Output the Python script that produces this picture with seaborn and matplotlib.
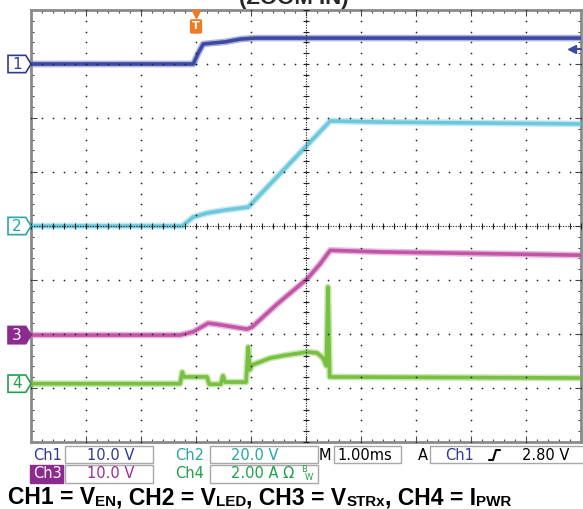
import numpy as np
import pandas as pd
import matplotlib
matplotlib.use('Agg')
from matplotlib import pyplot as plt
from matplotlib.patches import Polygon, Rectangle
from matplotlib.lines import Line2D
import matplotlib.transforms as mtrans
import seaborn as sns

t_ch1 = [-3.0, -0.05, 0.04, 0.13, 0.53, 0.8, 1.07, 7.0]
v_ch1 = [0.0, 0.0, 2.0, 3.7, 4.1, 4.6, 4.8, 4.8]

t_ch2 = [-3.0, -0.25, -0.05, 0.2, 0.53, 0.95, 2.44, 3.35, 7.0]
v_ch2 = [0.0, 0.0, 3.3, 4.8, 5.9, 7.0, 38.9, 38.5, 37.8]

t_ch3 = [-3.0, -0.29, -0.05, 0.22, 0.38, 0.93, 1.02, 1.47, 2.02, 2.25, 2.44, 3.35, 7.0]
v_ch3 = [0.0, 0.0, 0.6, 2.2, 2.0, 1.1, 1.5, 5.7, 10.4, 13.1, 15.7, 15.4, 14.8]

t_ch4 = [-3.0, -0.29, -0.25, -0.22, 0.2, 0.24, 0.45, 0.49, 0.53, 0.91, 0.95, 0.98,
         1.02, 1.35, 1.65, 2.02, 2.2, 2.31, 2.37, 2.4, 2.43, 7.0]
i_ch4 = [0.0, 0.0, 0.43, 0.25, 0.25, -0.02, -0.02, 0.29, 0.06, 0.06, 1.36, 0.51,
         0.69, 0.95, 1.06, 1.17, 1.14, 0.95, 0.66, 3.58, 0.25, 0.21]

scales = [10.0, 20.0, 10.0, 2.0]      # per division
offsets = [3.0, 0.0, -2.02, -2.92]    # ground marker position in divisions
trig_level = 2.80

trace_colors = ['#3c4aa6', '#6cc8dc', '#c255a8', '#78c040']
text_colors = ['#2e3a93', '#2aa5a5', '#a02a9a', '#20a04a']

caption_parts = [('CH1 = V', False), ('EN', True), (', CH2 = V', False), ('LED', True),
                 (', CH3 = V', False), ('STRx', True), (', CH4 = I', False), ('PWR', True)]

sns.set_style('white')
plt.rcParams['font.family'] = ['DejaVu Sans']

W, H = 583, 509
fig = plt.figure(figsize=(W / 100, H / 100), dpi=100)
ax = fig.add_axes([31 / W, 1 - 442 / H, 550 / W, 432 / H])


def fx(x):
    return x / W


def fy(y):
    return 1 - y / H


# traces
data = [(t_ch1, v_ch1), (t_ch2, v_ch2), (t_ch3, v_ch3), (t_ch4, i_ch4)]
for k, (t, v) in enumerate(data):
    df = pd.DataFrame({'t': t, 'div': offsets[k] + np.array(v) / scales[k]})
    sns.lineplot(data=df, x='t', y='div', ax=ax, color=trace_colors[k], lw=4.8, alpha=0.4,
                 estimator=None, sort=False, legend=False, zorder=2)
    sns.lineplot(data=df, x='t', y='div', ax=ax, color=trace_colors[k], lw=2.6,
                 estimator=None, sort=False, legend=False, zorder=3)

ax.set_xlim(-3, 7)
ax.set_ylim(-4, 4)
ax.set_xlabel('')
ax.set_ylabel('')

# graticule
gx = np.arange(-3, 7.001, 0.2)
gy = np.arange(-4, 4.001, 0.2)
for yv in range(-3, 4):
    ax.scatter(gx, np.full(len(gx), yv), s=1.5, color='#222222', linewidths=0, zorder=4)
for xv in range(-2, 7):
    ax.scatter(np.full(len(gy), xv), gy, s=1.5, color='#222222', linewidths=0, zorder=4)
ax.axvline(2, color='#222222', lw=0.8, ls=(0, (1, 1.3)), zorder=4)
ax.axhline(0, color='#222222', lw=0.8, ls=(0, (1, 1.3)), zorder=4)
ax.plot(np.full(len(gy), 2), gy, ls='none', marker='_', ms=4, mew=0.8, color='#222222', zorder=4)
ax.plot(gx, np.zeros(len(gx)), ls='none', marker='|', ms=4, mew=0.8, color='#222222', zorder=4)

ax.set_xticks(np.arange(-3, 7.01, 1))
ax.set_xticks(gx, minor=True)
ax.set_yticks(np.arange(-4, 4.01, 1))
ax.set_yticks(gy, minor=True)
ax.tick_params(which='both', direction='in', top=True, right=True, bottom=True, left=True,
               labelbottom=False, labelleft=False, color='#444444', width=0.8)
ax.tick_params(which='major', length=4)
ax.tick_params(which='minor', length=2.5)
for sp in ax.spines.values():
    sp.set_color('#8a8a8a')
    sp.set_linewidth(2)

# channel ground markers on the left
mtr = mtrans.blended_transform_factory(ax.transAxes, ax.transData)
for k in range(4):
    y = offsets[k]
    pts = [(-0.0418, y - 0.16), (-0.0095, y - 0.16), (0.0, y), (-0.0095, y + 0.16), (-0.0418, y + 0.16)]
    filled = k == 2
    ax.add_patch(Polygon(pts, closed=True, transform=mtr, clip_on=False,
                         fc='#8c2a90' if filled else 'white',
                         ec='#8c2a90' if filled else text_colors[k], lw=1.2, zorder=5))
    ax.text(-0.026, y, str(k + 1), transform=mtr, ha='center', va='center', fontsize=11,
            color='white' if filled else text_colors[k], clip_on=False, zorder=6)

# trigger marker
ttr = mtrans.blended_transform_factory(ax.transData, ax.transAxes)
ax.plot([0], [0.99], marker='v', ms=6, color='#f07a22', transform=ttr, clip_on=False, zorder=6)
ax.text(0, 0.962, 'T', transform=ttr, ha='center', va='center', color='white', fontsize=8,
        fontweight='bold', clip_on=False, zorder=7,
        bbox=dict(boxstyle='round,pad=0.2,rounding_size=0.15', fc='#f07a22', ec='none'))

# trigger level arrow on the right
lvl = offsets[0] + trig_level / scales[0]
ax.plot([6.83], [lvl], marker='<', ms=6, color=trace_colors[0], clip_on=False, zorder=6)
ax.plot([6.85, 7.0], [lvl, lvl], color=trace_colors[0], lw=1.5, clip_on=False, zorder=6)


# readout panel
def box(x0, y0, x1, y1, fc='white', ec='#a8a8a8'):
    fig.add_artist(Rectangle((fx(x0), fy(y1)), fx(x1) - fx(x0), fy(y0) - fy(y1),
                             transform=fig.transFigure, fc=fc, ec=ec, lw=1))


def label(x, y, s, color, size=10.5):
    fig.text(fx(x), fy(y), s, ha='left', va='center', color=color, fontsize=size)


r1, r2 = 455, 474
box(65, 446, 153, 463)
box(210, 446, 318, 463)
box(334, 446, 401, 463)
box(430, 446, 590, 463)
box(65, 465, 153, 483)
box(210, 465, 318, 483)
box(30, 465, 63, 483, fc='#8c2a90', ec='#8c2a90')

label(33, r1, 'Ch1', text_colors[0])
label(87, r1, '10.0 V', text_colors[0])
label(175, r1, 'Ch2', text_colors[1])
label(231, r1, '20.0 V', text_colors[1])
label(319, r1, 'M', 'black')
label(337, r1, '1.00ms', 'black')
label(418, r1, 'A', 'black')
label(445, r1, 'Ch1', text_colors[0])
label(522, r1, '2.80 V', 'black')
fig.add_artist(Line2D([fx(489), fx(493), fx(496), fx(500)], [fy(460), fy(460), fy(450), fy(450)],
                      transform=fig.transFigure, color='black', lw=1.5))

label(33, r2, 'Ch3', 'white')
label(87, r2, '10.0 V', text_colors[2])
label(175, r2, 'Ch4', text_colors[3])
label(231, r2, '2.00 A \u03a9', text_colors[3])
label(301, 469, 'B', text_colors[3], size=6)
label(305, 478, 'W', text_colors[3], size=6)

# title (cut off at top, as on the original)
fig.text(fx(294), fy(4), '(ZOOM IN)', ha='center', va='baseline', fontsize=16,
         fontweight='bold', family='Liberation Sans')

# caption with subscripts, laid out piece by piece and fitted to its width
renderer = fig.canvas.get_renderer()


def draw_caption(size):
    x = 8.0
    made = []
    for s, sub in caption_parts:
        tt = fig.text(fx(x), fy(505.5 if sub else 504), s, ha='left', va='baseline',
                      fontsize=size * (0.66 if sub else 1.0), fontweight='bold',
                      family='Liberation Sans', color='black')
        x += tt.get_window_extent(renderer).width
        made.append(tt)
    return made, x - 8.0


parts, width = draw_caption(13)
for p in parts:
    p.remove()
draw_caption(13 * 500.0 / width)

fig.savefig('out.png', dpi=100)
